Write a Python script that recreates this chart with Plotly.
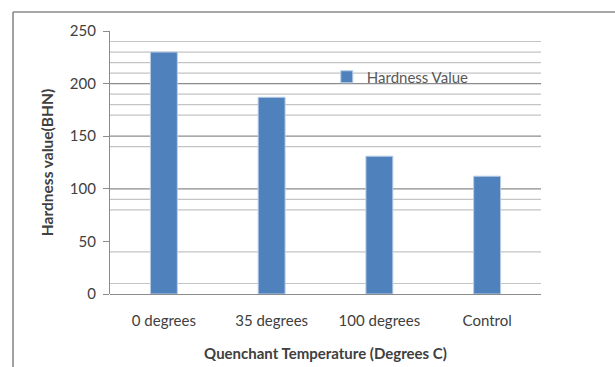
import plotly.graph_objects as go

# Hardness readings by quench temperature
categories = ["0 degrees", "35 degrees", "100 degrees", "Control"]
hardness = [230, 187, 131, 112]

# Horizontal rule lines drawn across the plot
minor_lines = [10, 40, 80, 90, 140, 170, 180, 190, 210, 220, 230, 240]
major_lines = [100, 150, 200]
y_ticks = [0, 50, 100, 150, 200, 250]

FONT = "Lato"
TEXT = "#404040"

fig = go.Figure()
fig.add_trace(go.Bar(
    x=categories,
    y=hardness,
    name="Hardness Value",
    width=0.25,
    marker=dict(color="#4F81BD", line=dict(color="#B9CDE5", width=1)),
))

shapes = []
for v in minor_lines:
    shapes.append(dict(type="line", xref="paper", yref="y", x0=0, x1=1, y0=v, y1=v,
                       line=dict(color="#C4C4C4", width=1.2), layer="below"))
for v in major_lines:
    shapes.append(dict(type="line", xref="paper", yref="y", x0=0, x1=1, y0=v, y1=v,
                       line=dict(color="#8C8C8C", width=1.3), layer="below"))
# outer chart frame (left and top edges)
shapes.append(dict(type="line", xref="paper", yref="paper", x0=-0.225, x1=-0.225,
                   y0=1.072, y1=-0.3, line=dict(color="#8A8A8A", width=1.6)))
shapes.append(dict(type="line", xref="paper", yref="paper", x0=-0.225, x1=1.2,
                   y0=1.072, y1=1.072, line=dict(color="#8A8A8A", width=1.6)))

fig.update_layout(
    width=615, height=367,
    margin=dict(l=110, r=74, t=31, b=73),
    paper_bgcolor="white", plot_bgcolor="white",
    font=dict(family=FONT, size=15, color=TEXT),
    shapes=shapes,
    showlegend=True,
    legend=dict(x=0.503, y=0.825, xanchor="left", yanchor="middle",
                bgcolor="rgba(0,0,0,0)", font=dict(family=FONT, size=15, color="#595959")),
    bargap=0.75,
)
fig.update_xaxes(
    showgrid=False, showline=False, ticks="", automargin=False,
    ticklabelstandoff=16,
    tickfont=dict(family=FONT, size=15, color=TEXT),
    title=dict(text="<b>Quenchant Temperature (Degrees C)</b>", standoff=20,
               font=dict(family=FONT, size=15, color=TEXT)),
)
fig.update_yaxes(
    range=[0, 250], tickvals=y_ticks, showgrid=False, automargin=False,
    showline=True, linecolor="#8C8C8C", linewidth=1.2,
    ticks="outside", ticklen=6, tickcolor="#8C8C8C",
    ticklabelstandoff=4,
    zeroline=True, zerolinecolor="#8C8C8C", zerolinewidth=1.3,
    tickfont=dict(family=FONT, size=15, color=TEXT),
    title=dict(text="<b>Hardness value(BHN)</b>", standoff=12,
               font=dict(family=FONT, size=15.5, color=TEXT)),
)

fig.write_html("out.html")
